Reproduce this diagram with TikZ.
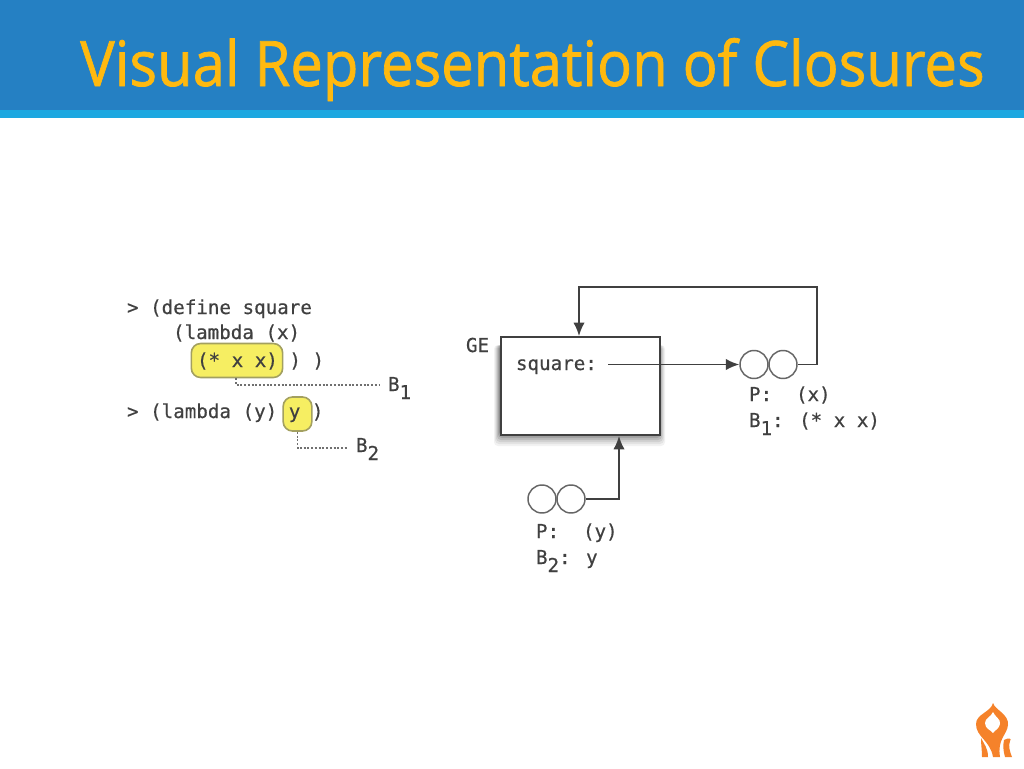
\documentclass[tikz,border=0pt]{standalone}
\usepackage{fontspec}
\usepackage{graphicx}
\setmainfont{Open Sans}
\newfontfamily\codefont[FakeBold=0.5]{DejaVu Sans Mono}
\newfontfamily\titlefont[FakeBold=1.2]{Open Sans}
\definecolor{barblue}{HTML}{2580C3}
\definecolor{stripblue}{HTML}{1CA7E0}
\definecolor{titleyellow}{HTML}{FFB90F}
\definecolor{hlyellow}{HTML}{F6EE62}
\definecolor{hledge}{HTML}{A3A060}
\definecolor{ink}{HTML}{404040}
\definecolor{logoorange}{HTML}{F5822A}
\newcommand{\sbx}[1]{\raisebox{-0.42em}{#1}}
\tikzset{
  code/.style={anchor=base west,inner sep=0pt,outer sep=0pt,text=ink,font=\codefont\fontsize{14.4pt}{16pt}\selectfont},
  hl/.style={draw=hledge,fill=hlyellow,line width=1.2pt,rounded corners=7pt},
  dotline/.style={draw=ink!75,line width=1pt,dash pattern=on 1.5pt off 1.3pt},
  wire/.style={draw=ink,line width=1.3pt},
  arrowwire/.style={wire,-{Latex[length=10pt,width=8.5pt]}},
  pair/.style={circle,draw=ink!80,line width=1.1pt,fill=white,minimum size=21pt,inner sep=0pt},
  frame/.style={draw=ink,line width=1.6pt,fill=white,minimum width=119pt,minimum height=73.5pt,inner sep=0pt},
}
\usetikzlibrary{arrows.meta,calc}
\begin{document}
\begin{tikzpicture}[x=0.75pt,y=-0.75pt]
\useasboundingbox (0,0) rectangle (1024,768);
\fill[white] (0,0) rectangle (1024,768);
\fill[barblue] (0,0) rectangle (1024,110);
\fill[stripblue] (0,110) rectangle (1024,118);
\node[anchor=base west,inner sep=0pt,text=titleyellow,font=\titlefont\fontsize{47pt}{50pt}\selectfont] (title) at (80,86) {\scalebox{0.925}[1]{Visual Representation of Closures}};

% left: highlights
\node[hl,minimum width=68.5pt,minimum height=25.5pt,inner sep=0pt] (hlone) at (237,360.5) {};
\node[hl,minimum width=21.5pt,minimum height=25.5pt,inner sep=0pt] (hltwo) at (297.5,414) {};
% code text
\node[code] (l1) at (127,314) {> (define square};
\node[code] (l2) at (173,339) {(lambda (x)};
\node[code] (l3) at (197,367) {(* x x) ) )};
\node[code] (l4) at (127,418) {> (lambda (y) y )};
\node[code] (bone) at (388,391) {B\sbx{1}};
\node[code] (btwo) at (356,452) {B\sbx{2}};
\draw[dotline] (hlone.south) ++(-1,0) |- ($(bone.west)+(-8,-3)$);
\draw[dotline] (hltwo.south) |- ($(btwo.west)+(-8,-1)$);

% right: frame with shadow (falls downward)
\foreach \d/\o in {12/0.05,10/0.06,8/0.08,6/0.10,4/0.12,2/0.15}{
  \fill[black,opacity=\o,rounded corners=3pt] (500-0.5*\d,345) rectangle (659+0.5*\d,434+\d);
}
\node[frame,anchor=north west] (ge) at (500,336) {};
\node[code,anchor=base west] (gelabel) at (466,352) {GE};
\node[code] (sq) at (516,370) {square:};
\node[pair] (c1) at (754,364.5) {};
\node[pair] (c2) at (783,364.5) {};
\node[pair] (c3) at (542,499) {};
\node[pair] (c4) at (571,499) {};
\coordinate (topin) at (579,336);
\coordinate (botin) at (619,436);
\coordinate (sqout) at (608,364.5);
\draw[arrowwire] (sqout) -- (c1.west);
\draw[arrowwire] (c2.east) -- ++(19,0) -- ++(0,-77.5) -| (topin);
\draw[arrowwire] (c4.east) -| (botin);
\node[code] (p1) at (749,401) {P:};
\node[code] (p1v) at (796,401) {(x)};
\node[code] (b1) at (749,427) {B\sbx{1}: (* x x)};
\node[code] (p2) at (536,538) {P:};
\node[code] (p2v) at (583,538) {(y)};
\node[code] (b2) at (536,564) {B\sbx{2}: y};

% logo
\fill[logoorange] (993,703)
  .. controls (995,710) and (1009,714) .. (1008,725)
  .. controls (1007,735) and (997,739) .. (1000,757)
  -- (993,757)
  .. controls (990,740) and (976,737) .. (976,724)
  .. controls (976,714) and (991,712) .. (993,703) -- cycle;
\fill[white] (993,712)
  .. controls (995,717) and (1001,719) .. (1000,724)
  .. controls (999,729) and (995,730) .. (993,733)
  .. controls (991,730) and (985,729) .. (985,723)
  .. controls (985,718) and (991,717) .. (993,712) -- cycle;
\fill[logoorange] (981,738) .. controls (984,744) and (988,748) .. (988,757) -- (982,757)
  .. controls (982,750) and (981,745) .. (981,738) -- cycle;
\fill[logoorange] (1004,740) .. controls (1009,737) and (1012,739) .. (1010,741)
  .. controls (1008,746) and (1010,752) .. (1012,757) -- (1005,757)
  .. controls (1003,750) and (1003,745) .. (1004,740) -- cycle;
\end{tikzpicture}
\end{document}
